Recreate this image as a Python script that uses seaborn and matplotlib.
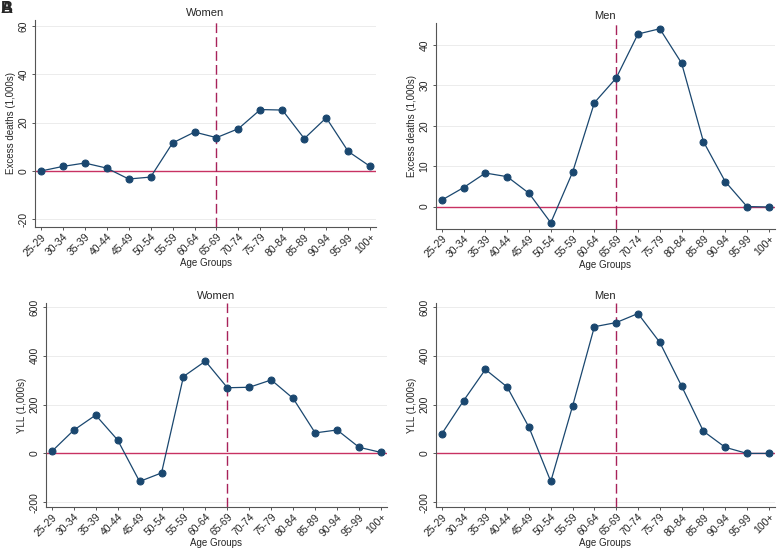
import pandas as pd
import matplotlib
matplotlib.use('Agg')
import matplotlib.pyplot as plt
import seaborn as sns

## DATA
age_groups = ['25-29', '30-34', '35-39', '40-44', '45-49', '50-54', '55-59', '60-64',
              '65-69', '70-74', '75-79', '80-84', '85-89', '90-94', '95-99', '100+']

women_excess = [0.0, 1.9, 3.3, 1.2, -3.3, -2.5, 11.6, 16.1, 13.8, 17.5, 25.4, 25.2, 13.4, 22.0, 8.1, 1.9]
men_excess = [1.6, 4.7, 8.3, 7.4, 3.3, -4.0, 8.5, 25.7, 31.8, 42.7, 44.0, 35.5, 16.1, 6.2, 0.0, -0.1]
women_yll = [8, 95, 157, 55, -115, -80, 315, 378, 269, 271, 301, 225, 84, 96, 25, 4]
men_yll = [80, 216, 344, 272, 107, -115, 194, 519, 536, 573, 455, 276, 91, 25, 0, 0]

## STYLE
sns.set_style('white')
plt.rcParams['font.family'] = ['Liberation Sans', 'DejaVu Sans']

navy = '#1a476f'
zero_col = '#c83262'
vline_col = '#a8225a'

fig = plt.figure(figsize=(7.77, 5.5), dpi=100)

# panel setup: (values, title, ylabel, yticks, ylim, axes rect)
panels = [
    (women_excess, 'Women', 'Excess deaths (1,000s)', [-20, 0, 20, 40, 60], (-23.2, 62.5),
     [0.045, 0.587, 0.439, 0.377]),
    (men_excess, 'Men', 'Excess deaths (1,000s)', [0, 10, 20, 30, 40], (-5.5, 45.4),
     [0.561, 0.584, 0.436, 0.374]),
    (women_yll, 'Women', 'YLL (1,000s)', [-200, 0, 200, 400, 600], (-220, 616),
     [0.059, 0.078, 0.439, 0.371]),
    (men_yll, 'Men', 'YLL (1,000s)', [-200, 0, 200, 400, 600], (-220, 616),
     [0.561, 0.078, 0.436, 0.371]),
]

for vals, title, ylab, yt, yl, rect in panels:
    ax = fig.add_axes(rect)
    df = pd.DataFrame({'age': age_groups, 'value': vals})
    for t in yt:
        ax.axhline(t, color='#ececec', lw=0.7, zorder=0)
    ax.axhline(0, color=zero_col, lw=1.0, zorder=1)
    sns.lineplot(data=df, x='age', y='value', ax=ax, color=navy, lw=0.9,
                 marker='o', markersize=5, markeredgecolor=navy, zorder=3)
    ax.axvline(age_groups.index('65-69'), color=vline_col, lw=1.0, ls=(0, (7, 3)), zorder=2)
    ax.set_xlim(-0.27, 15.27)
    ax.set_ylim(*yl)
    ax.set_yticks(yt)
    ax.set_yticklabels([str(t) for t in yt], rotation=90, va='center')
    ax.set_xticks(range(len(age_groups)))
    ax.set_xticklabels(age_groups, rotation=45, ha='right', rotation_mode='anchor')
    ax.tick_params(axis='x', labelsize=7.5, length=2.5, width=0.7, color='#555555',
                   direction='out', bottom=True, pad=1)
    ax.tick_params(axis='y', labelsize=7.5, length=2.5, width=0.7, color='#555555',
                   direction='out', left=True, pad=2)
    ax.set_title(title, fontsize=8, pad=3)
    ax.set_ylabel(ylab, fontsize=7, labelpad=2)
    ax.set_xlabel('Age Groups', fontsize=7, labelpad=0)
    for s in ['top', 'right']:
        ax.spines[s].set_visible(False)
    for s in ['left', 'bottom']:
        ax.spines[s].set_color('#555555')
        ax.spines[s].set_linewidth(0.8)

# overlapping panel letters in the corner
fig.text(0.001, 0.998, 'A', fontsize=12, fontweight='bold', va='top', ha='left')
fig.text(0.001, 0.998, 'B', fontsize=12, fontweight='bold', va='top', ha='left')

plt.savefig('out.png', dpi=100)
